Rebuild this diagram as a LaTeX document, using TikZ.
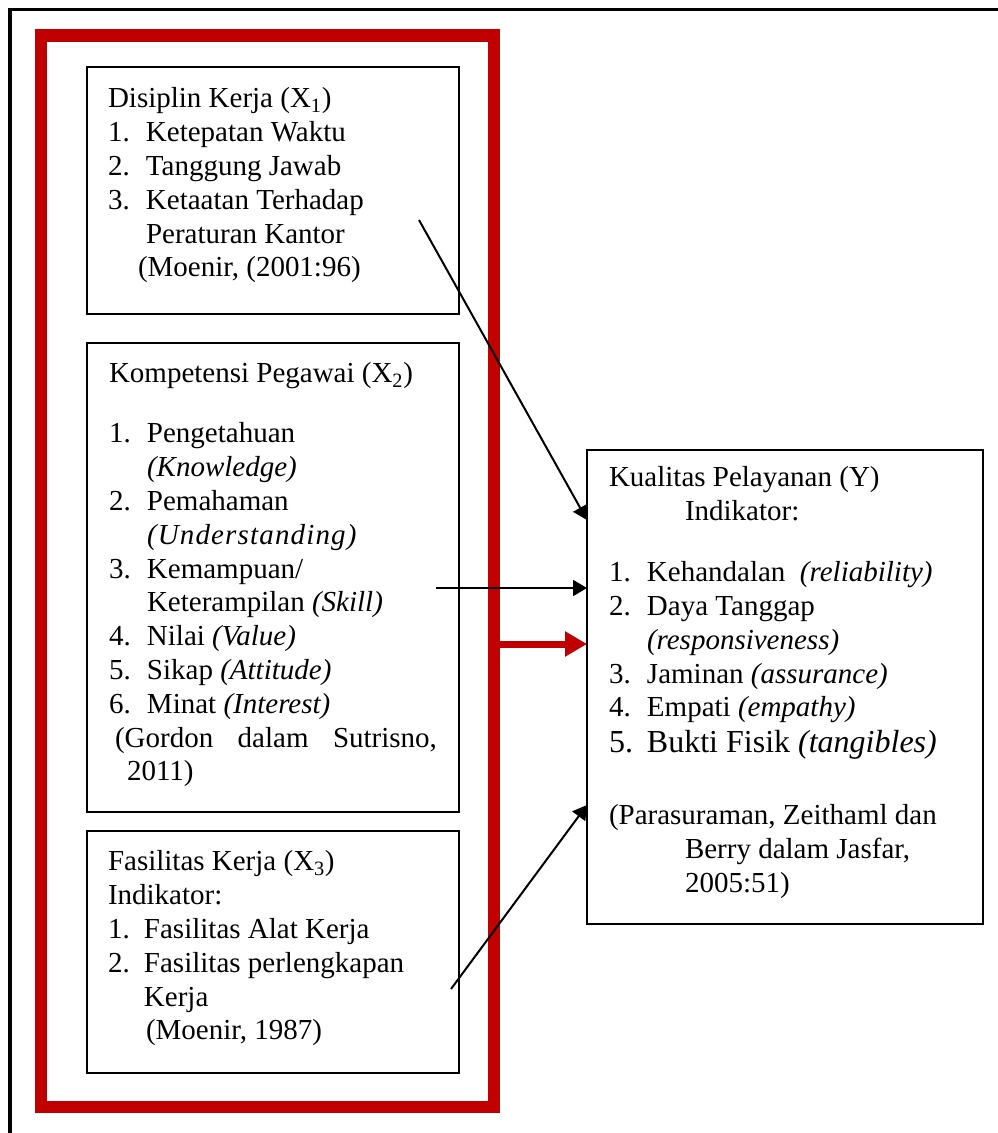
\documentclass[tikz,border=0pt]{standalone}
\usepackage{fontspec}
\setmainfont{Liberation Serif}
\usetikzlibrary{positioning,arrows.meta}
\definecolor{frameRed}{RGB}{192,0,0}
\setlength{\parindent}{0pt}
\newcommand{\itemno}[2][28.5pt]{\makebox[#1][l]{#2}}

\begin{document}
\begin{tikzpicture}[
  x=0.75pt, y=-0.75pt,
  every node/.style={inner sep=0pt, outer sep=0pt},
  box/.style={draw, line width=1.5pt, minimum width=279pt},
  txt/.style={anchor=north west, text width=290pt, align=flush left,
    font=\fontsize{21.75}{25.35}\selectfont},
  link/.style={draw, line width=1.5pt, -{Triangle[length=10.5pt,width=12pt]}},
  red-link/.style={draw=frameRed, line width=5.25pt, -{Triangle[length=16.5pt,width=18pt]}},
  ]
  \useasboundingbox (0,0) rectangle (998,1133);

  % outer frame, cut off at the right and bottom
  \draw [line width=2.8pt] (10,1140) -- (10,9.5) -- (1010,9.5);

  % red frame round the three X boxes
  \node [draw=frameRed, line width=9.4pt, minimum width=339.75pt,
    minimum height=803.6pt, anchor=north west] (kerangka) at (41,35.5) {};

  \node [box, minimum height=185.25pt, anchor=north west] (disiplin) at (87,67) {};
  \node [box, minimum height=351.75pt, below=21.75pt of disiplin] (kompetensi) {};
  \node [box, minimum height=181.5pt, below=14.25pt of kompetensi] (fasilitas) {};
  \node [box, minimum width=297pt, minimum height=355.5pt, anchor=north west] (kualitas) at (587,450) {};

  \node [txt] (disiplin-text) at ([shift={(21,17.3)}]disiplin.north west) {%
    \strut Disiplin Kerja (X\textsubscript{1})\\
    \itemno{1.}Ketepatan Waktu\\
    \itemno{2.}Tanggung Jawab\\
    \itemno{3.}Ketaatan Terhadap\\
    \hspace*{28.5pt}Peraturan Kantor\\
    \hspace*{22.5pt}(Moenir, (2001:96)};

  \node [txt] (kompetensi-text) at ([shift={(22,16.3)}]kompetensi.north west) {%
    \strut Kompetensi Pegawai (X\textsubscript{2})\\[19.65pt]
    \itemno{1.}Pengetahuan\\
    \hspace*{28.5pt}\textit{(Knowledge)}\\
    \itemno{2.}Pemahaman\\
    \hspace*{28.5pt}{\addfontfeatures{LetterSpace=4}\textit{(Understanding)}}\\
    \itemno{3.}Kemampuan/\\
    \hspace*{28.5pt}Keterampilan \textit{(Skill)}\\
    \itemno{4.}Nilai \textit{(Value)}\\
    \itemno{5.}Sikap \textit{(Attitude)}\\
    \itemno{6.}Minat \textit{(Interest)}\\
    \hspace*{4.5pt}\makebox[241.5pt][s]{(Gordon dalam Sutrisno,}\\
    \hspace*{13.5pt}2011)};

  \node [txt] (fasilitas-text) at ([shift={(21,16.3)}]fasilitas.north west) {%
    \strut Fasilitas Kerja (X\textsubscript{3})\\
    Indikator:\\
    \itemno[27pt]{1.}Fasilitas Alat Kerja\\
    \itemno[27pt]{2.}Fasilitas perlengkapan\\
    \hspace*{27pt}Kerja\\
    \hspace*{28.5pt}(Moenir, 1987)};

  \node [txt] (kualitas-text) at ([shift={(22,13.3)}]kualitas.north west) {%
    \strut Kualitas Pelayanan (Y)\\
    \hspace*{57pt}Indikator:\\[20.4pt]
    \itemno{1.}Kehandalan\ \ \textit{(reliability)}\\
    \itemno{2.}Daya Tanggap\\
    \hspace*{28.5pt}\textit{(responsiveness)}\\
    \itemno{3.}Jaminan \textit{(assurance)}\\
    \itemno{4.}Empati \textit{(empathy)}\\[1.65pt]
    {\fontsize{24}{25.35}\selectfont\itemno{5.}Bukti Fisik \textit{(tangibles)}}\\[28.65pt]
    (Parasuraman, Zeithaml dan\\
    \hspace*{57pt}Berry dalam Jasfar,\\
    \hspace*{57pt}2005:51)};

  % free tails of the arrows inside the boxes
  \coordinate (disiplin-out) at (419,220);
  \coordinate (kompetensi-out) at (436,588);
  \coordinate (fasilitas-out) at (451,989);
  \coordinate (kualitas-in1) at ([yshift=125.25pt]kualitas.west);
  \coordinate (kualitas-in2) at ([yshift=74.25pt]kualitas.west);
  \coordinate (kualitas-in3) at ([yshift=32.25pt]kualitas.west);
  \coordinate (kualitas-in4) at ([yshift=-88.5pt]kualitas.west);

  \draw [link] (disiplin-out) -- (kualitas-in1);
  \draw [link] (kompetensi-out) -- (kualitas-in2);
  \draw [red-link] (kerangka.east |- kualitas-in3) -- (kualitas-in3);
  \draw [link] (fasilitas-out) -- (kualitas-in4);

\end{tikzpicture}
\end{document}
